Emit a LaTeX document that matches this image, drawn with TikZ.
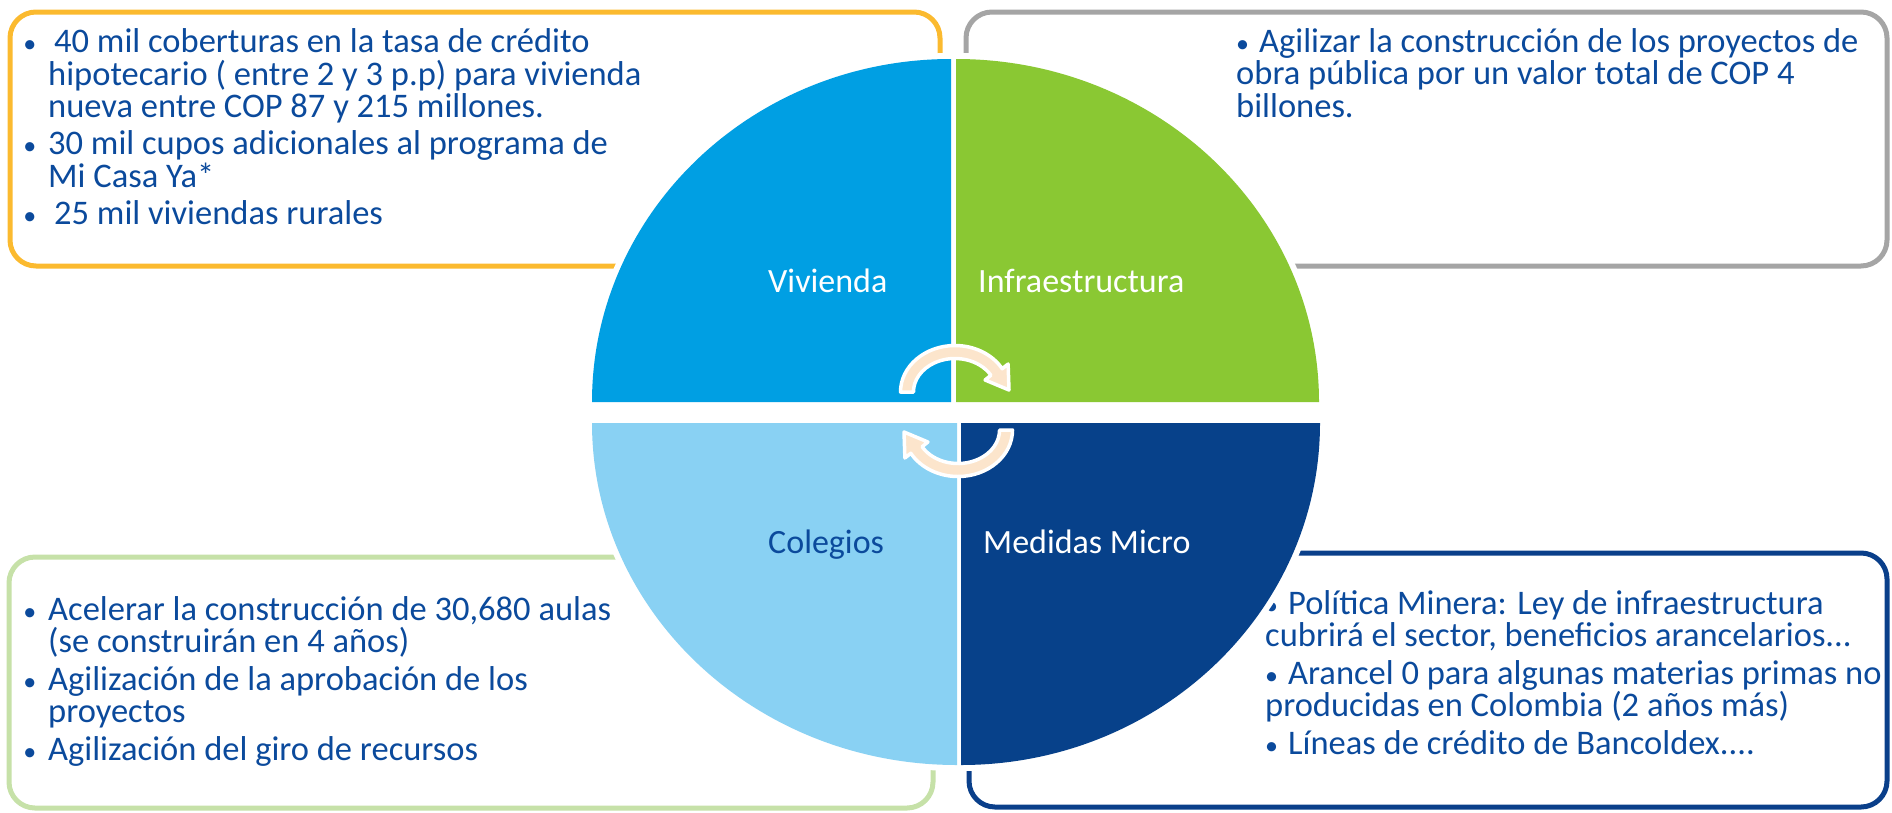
\documentclass[tikz,border=0pt]{standalone}
\usepackage{fontspec}
\setmainfont{Carlito}
\usepackage{tikz}
\definecolor{viv}{HTML}{009FE3}
\definecolor{infra}{HTML}{8AC833}
\definecolor{coleg}{HTML}{89D1F3}
\definecolor{micro}{HTML}{07418A}
\definecolor{txtblue}{HTML}{0B4A9C}
\definecolor{yellowbox}{HTML}{FBBA2F}
\definecolor{graybox}{HTML}{A5A5A5}
\definecolor{greenbox}{HTML}{C6E1A8}
\definecolor{bluebox}{HTML}{0A3F8A}
\definecolor{peach}{HTML}{FCE5CC}
\newcommand{\bul}{{\fontsize{26}{26}\selectfont\textbullet}}

\begin{document}
\begin{tikzpicture}[x=1pt, y=-1pt,
    box/.style={line width=5, rounded corners=26},
    body/.style={inner sep=0, text=txtblue, align=left, font=\fontsize{34.5}{32.5}\selectfont},
    lab/.style={inner sep=0, font=\fontsize{34}{40}\selectfont},
    turn/.style={fill=peach, draw=white, line width=3.5, line join=round}]
            \useasboundingbox (0,0) rectangle (1892,812);
            \draw[box, yellowbox] (10,12) rectangle (940,266);
            \draw[box, graybox] (966,12) rectangle (1887,266);
            \draw[box, greenbox] (9,557) rectangle (933,808);
            \draw[box, bluebox] (969,553) rectangle (1887,807);
            \node[body, anchor=base west] (vivtxt) at (48,224) {\llap{\bul\hspace{12pt}}\hspace{6pt}40 mil coberturas en la tasa de crédito\\ hipotecario ( entre 2 y 3 p.p) para vivienda\\ nueva entre COP 87 y 215 millones.\\[4.5pt] \llap{\bul\hspace{12pt}}30 mil cupos adicionales al programa de\\ Mi Casa Ya*\\[4.5pt] \llap{\bul\hspace{12pt}}\hspace{6pt}25 mil viviendas rurales};
            \node[body, anchor=base west] (infratxt) at (1236,117) {\bul\hspace{10pt}Agilizar la construcción de los proyectos de\\ obra pública por un valor total de COP 4\\ billones.};
            \node[body, anchor=base west] (colegtxt) at (48,760) {\llap{\bul\hspace{12pt}}Acelerar la construcción de 30,680 aulas\\ (se construirán en 4 años)\\[5pt] \llap{\bul\hspace{12pt}}Agilización de la aprobación de los\\ proyectos\\[5pt] \llap{\bul\hspace{12pt}}Agilización del giro de recursos};
            \node[body, anchor=base west] (microtxt) at (1265,754) {\bul\hspace{10pt}Política Minera: Ley de infraestructura\\ cubrirá el sector, beneficios arancelarios...\\[5pt] \bul\hspace{10pt}Arancel 0 para algunas materias primas no\\ producidas en Colombia (2 años más)\\[5pt] \bul\hspace{10pt}Líneas de crédito de Bancoldex....};
            \foreach \cx/\cy/\a/\rx/\ry in {951/402/180/359/343, 956/402/270/363/343, 957/423/90/365/342, 961/423/0/359/342}
                \draw[white, line width=12, line join=round] (\cx,\cy) -- ++(\a:{\rx} and {\ry}) arc[start angle=\a, delta angle=90, x radius=\rx, y radius=\ry] -- cycle;
            \foreach \cx/\cy/\a/\rx/\ry/\col in {951/402/180/359/343/viv, 956/402/270/363/343/infra, 957/423/90/365/342/coleg, 961/423/0/359/342/micro}
                \fill[\col] (\cx,\cy) -- ++(\a:{\rx} and {\ry}) arc[start angle=\a, delta angle=90, x radius=\rx, y radius=\ry] -- cycle;
            \node[lab, white, anchor=base west] (viv) at (768,292) {Vivienda};
            \node[lab, white, anchor=base west] (infra) at (978,292) {Infraestructura};
            \node[lab, txtblue, anchor=base west] (coleg) at (768,553) {Colegios};
            \node[lab, white, anchor=base west] (micro) at (983,553) {Medidas Micro};
            \foreach \cx/\cy/\r in {955/392/0, 958/430/180} {
                \begin{scope}[shift={(\cx,\cy)}, rotate=\r]
                    \draw[turn] (-41.5,0) -- (-54.5,0) arc[start angle=180, end angle=330, x radius=54.5, y radius=46.5] -- (53.1,-28) -- (54,-2) -- (30.1,-12) -- (35.9,-16.75) arc[start angle=330, end angle=180, x radius=41.5, y radius=33.5] -- cycle;
                \end{scope}
            }
\end{tikzpicture}
\end{document}
